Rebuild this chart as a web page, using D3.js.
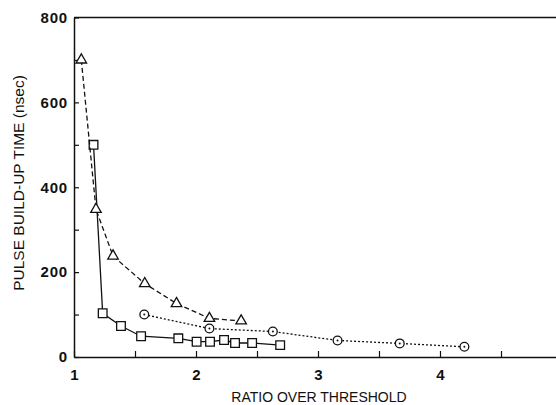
<!DOCTYPE html>
<html>
<head>
<meta charset="utf-8">
<script src="https://cdn.jsdelivr.net/npm/d3@7"></script>
<style>
  body { margin: 0; background: #fff; }
  svg { display: block; }
  text { font-family: "Liberation Sans", Arial, sans-serif; fill: #111; }
</style>
</head>
<body>
<svg id="plotSVG" width="556" height="405"></svg>
<script>
// triangles, dashed line
let triX = [1.06, 1.18, 1.32, 1.58, 1.84, 2.11, 2.37]
let triY = [700, 348, 238, 173, 126, 91, 85]
// squares, solid line
let sqX = [1.16, 1.235, 1.385, 1.55, 1.855, 2.005, 2.115, 2.23, 2.32, 2.46, 2.69]
let sqY = [500, 103, 73, 49, 44, 36, 36, 40, 33, 33, 28]
// circles, dotted line
let cirX = [1.576, 2.11, 2.63, 3.16, 3.67, 4.2]
let cirY = [100, 67, 60, 39, 32, 24]

let xTicks = [1, 2, 3, 4]
let yTicks = [0, 200, 400, 600, 800]

let svg = d3.select("#plotSVG")

let xScale = d3.scaleLinear().domain([1, 5]).range([74, 562])
let yScale = d3.scaleLinear().domain([0, 800]).range([357, 17.5])

// top frame line
svg.append("line")
    .attr("x1", xScale(1)).attr("x2", xScale(5))
    .attr("y1", yScale(800)).attr("y2", yScale(800))
    .attr("stroke", "#111").attr("stroke-width", 1.3)

// x axis, ticks point inward
svg.append("g")
    .attr("transform", `translate(0,${yScale(0)})`)
    .call(d3.axisBottom(xScale)
        .tickValues(d3.range(1, 5, 0.5))
        .tickSize(-6)
        .tickSizeOuter(0)
        .tickFormat(d => xTicks.includes(d) ? d3.format("d")(d) : ""))
    .call(g => {
        g.select(".domain").attr("stroke", "#111").attr("stroke-width", 1.5)
        g.selectAll(".tick line").attr("stroke", "#111").attr("stroke-width", 1.2)
        g.selectAll(".tick text").attr("y", 12).style("font-size", "15px").style("font-weight", "bold")
    })

// y axis
svg.append("g")
    .attr("transform", `translate(${xScale(1)},0)`)
    .call(d3.axisLeft(yScale)
        .tickValues(d3.range(0, 801, 100))
        .tickSize(-5)
        .tickSizeOuter(0)
        .tickFormat(d => yTicks.includes(d) ? d : ""))
    .call(g => {
        g.select(".domain").attr("stroke", "#111").attr("stroke-width", 1.5)
        g.selectAll(".tick line").attr("stroke", "#111").attr("stroke-width", 1.2)
        g.selectAll(".tick text").attr("x", -6)
            .style("font-size", "15px").style("font-weight", "bold").style("letter-spacing", "0.8px")
    })

let line = d3.line().x(d => xScale(d[0])).y(d => yScale(d[1]))

function series(xs, ys, dash, marker, centerDot) {
    let pts = xs.map((x, i) => [x, ys[i]])
    svg.append("path")
        .datum(pts)
        .attr("d", line)
        .attr("fill", "none")
        .attr("stroke", "#111")
        .attr("stroke-width", 1.3)
        .attr("stroke-dasharray", dash)
    let sym = d3.symbol().type(marker.type).size(marker.size)
    let g = svg.append("g")
    g.selectAll("path")
        .data(pts)
        .join("path")
        .attr("transform", d => `translate(${xScale(d[0])},${yScale(d[1])})`)
        .attr("d", sym)
        .attr("fill", "#fff")
        .attr("stroke", "#111")
        .attr("stroke-width", 1.3)
    if (centerDot) {
        g.selectAll("circle")
            .data(pts)
            .join("circle")
            .attr("cx", d => xScale(d[0]))
            .attr("cy", d => yScale(d[1]))
            .attr("r", 1)
            .attr("fill", "#111")
    }
}

series(cirX, cirY, "2,2", {type: d3.symbolCircle, size: 60}, true)
series(sqX, sqY, null, {type: d3.symbolSquare, size: 75}, false)
series(triX, triY, "5,3", {type: d3.symbolTriangle, size: 48}, false)

// axis titles
svg.append("text")
    .attr("x", 319)
    .attr("y", 402)
    .attr("text-anchor", "middle")
    .style("font-size", "14px")
    .text("RATIO OVER THRESHOLD")

svg.append("text")
    .attr("transform", "rotate(-90)")
    .attr("x", -183)
    .attr("y", 24)
    .attr("text-anchor", "middle")
    .style("font-size", "15.5px")
    .text("PULSE BUILD-UP TIME (nsec)")
</script>
</body>
</html>
